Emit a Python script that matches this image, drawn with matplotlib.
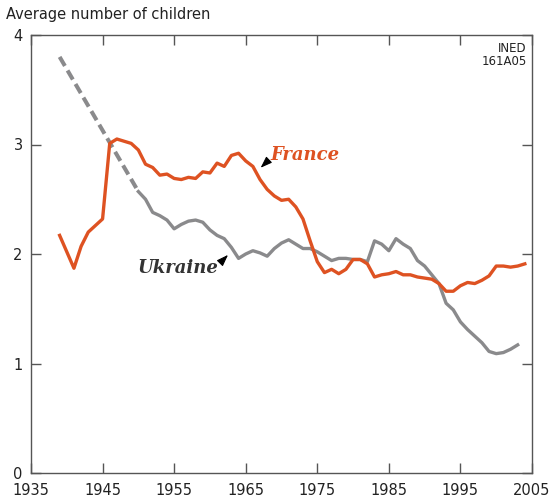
import matplotlib
matplotlib.use("Agg")
import matplotlib.pyplot as plt

france_years = list(range(1939, 2005))
france_tfr = [2.17, 2.02, 1.87, 2.07, 2.20, 2.26, 2.32, 3.01, 3.05, 3.03, 3.01, 2.95,
              2.82, 2.79, 2.72, 2.73, 2.69, 2.68, 2.70, 2.69, 2.75, 2.74, 2.83, 2.80,
              2.90, 2.92, 2.85, 2.80, 2.68, 2.59, 2.53, 2.49, 2.50, 2.43, 2.32, 2.12,
              1.93, 1.83, 1.86, 1.82, 1.86, 1.95, 1.95, 1.91, 1.79, 1.81, 1.82, 1.84,
              1.81, 1.81, 1.79, 1.78, 1.77, 1.73, 1.66, 1.66, 1.71, 1.74, 1.73, 1.76,
              1.80, 1.89, 1.89, 1.88, 1.89, 1.91]

ukr_est_years = [1939, 1950]
ukr_est_tfr = [3.80, 2.57]

ukr_years = list(range(1950, 2004))
ukr_tfr = [2.57, 2.50, 2.38, 2.35, 2.31, 2.23, 2.27, 2.30, 2.31, 2.29, 2.22, 2.17,
           2.14, 2.06, 1.96, 2.00, 2.03, 2.01, 1.98, 2.05, 2.10, 2.13, 2.09, 2.05,
           2.05, 2.02, 1.98, 1.94, 1.96, 1.96, 1.95, 1.95, 1.93, 2.12, 2.09, 2.03,
           2.14, 2.09, 2.05, 1.94, 1.89, 1.81, 1.73, 1.55, 1.49, 1.38, 1.31, 1.25,
           1.19, 1.11, 1.09, 1.10, 1.13, 1.17]

x_ticks = [1935, 1945, 1955, 1965, 1975, 1985, 1995, 2005]
y_ticks = [0, 1, 2, 3, 4]

orange = "#DE5222"
gray = "#8A8A8C"
spine_c = "#555555"

fig = plt.figure(figsize=(5.59, 5.01), dpi=100)
ax = fig.add_axes([31/559, 28/501, 501/559, 438/501])

ax.plot(ukr_est_years, ukr_est_tfr, color=gray, lw=2.9, ls=(0, (2.6, 1.3)),
        solid_capstyle="butt", dash_capstyle="butt")
ax.plot(ukr_years, ukr_tfr, color=gray, lw=2.4, solid_joinstyle="round")
ax.plot(france_years, france_tfr, color=orange, lw=2.4, solid_joinstyle="round")

ax.set_xlim(1935, 2005)
ax.set_ylim(0, 4)
ax.set_xticks(x_ticks)
ax.set_yticks(y_ticks)
ax.tick_params(direction="in", length=7, width=1, color=spine_c,
               top=True, right=True, labelsize=10.5, labelcolor="#222222")
ax.tick_params(axis="x", pad=7)
ax.tick_params(axis="y", pad=6)
for s in ax.spines.values():
    s.set_color(spine_c)
    s.set_linewidth(1)

fig.text(6/559, 1 - 15/501, "Average number of children", fontsize=10.5,
         color="#222222", va="center", ha="left")
ax.text(0.99, 0.985, "INED\n161A05", transform=ax.transAxes, ha="right", va="top",
        fontsize=8.5, color="#222222", linespacing=1.0)

ax.annotate("", xy=(1966.8, 2.77), xytext=(1968.4, 2.87),
            arrowprops=dict(arrowstyle="-|>,head_length=0.7,head_width=0.25",
                            color="black", lw=0.8))
ax.text(1968.5, 2.90, "France", color=orange, fontsize=13, fontstyle="italic",
        fontweight="semibold", fontfamily="DejaVu Serif", ha="left", va="center")

ax.annotate("", xy=(1962.8, 2.01), xytext=(1961.3, 1.91),
            arrowprops=dict(arrowstyle="-|>,head_length=0.7,head_width=0.25",
                            color="black", lw=0.8))
ax.text(1961.2, 1.87, "Ukraine", color="#333333", fontsize=13, fontstyle="italic",
        fontweight="bold", fontfamily="DejaVu Serif", ha="right", va="center")

fig.savefig("out.png", dpi=100)
